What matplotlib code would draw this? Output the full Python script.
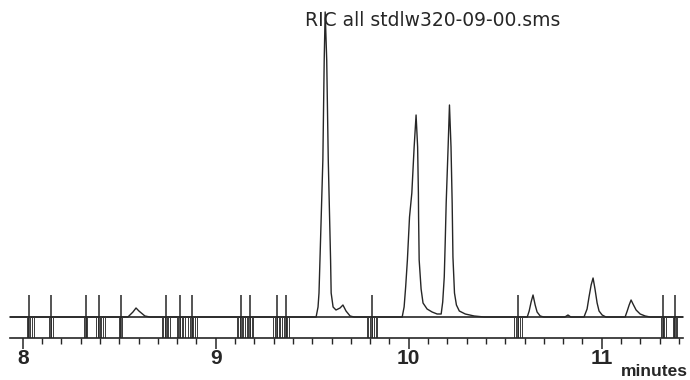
import matplotlib
matplotlib.use("Agg")
import matplotlib.pyplot as plt
import numpy as np

plt.rcParams['font.family'] = ['Liberation Sans', 'DejaVu Sans']

title = "RIC all stdlw320-09-00.sms"
x_label = "minutes"
tick_values = [8, 9, 10, 11]
tick_labels = ["8", "9", "10", "11"]

# Chromatogram trace: retention time (min) and signal (arb. units)
trace_time = [7.934, 8.545, 8.571, 8.587, 8.602, 8.633, 8.659,
              9.520, 9.530, 9.535, 9.540, 9.555, 9.562, 9.567, 9.575, 9.583, 9.595,
              9.598, 9.608, 9.623, 9.644, 9.659, 9.675, 9.696, 9.717,
              9.966, 9.976, 9.984, 9.993, 10.004, 10.016, 10.028, 10.038, 10.046,
              10.050, 10.051, 10.054, 10.064, 10.074, 10.095, 10.121, 10.147, 10.168,
              10.176, 10.184, 10.189, 10.194, 10.204, 10.211, 10.219, 10.225,
              10.229, 10.237, 10.247, 10.262, 10.293, 10.339, 10.391,
              10.614, 10.624, 10.634, 10.644, 10.655, 10.665, 10.681, 10.700,
              10.809, 10.825, 10.840,
              10.908, 10.924, 10.934, 10.945, 10.955, 10.965, 10.976, 10.986, 11.002, 11.022,
              11.121, 11.132, 11.142, 11.152, 11.162, 11.178, 11.199, 11.225, 11.251,
              11.421]
trace_signal = [0, 0, 5, 9, 6, 1, 0,
                0, 10, 24, 57, 157, 257, 305, 257, 157, 57,
                24, 10, 7, 9, 12, 6, 1, 0,
                0, 10, 30, 57, 100, 124, 170, 202, 170,
                124, 100, 57, 28, 14, 8, 5, 3, 3,
                15, 40, 75, 114, 170, 212, 170, 114,
                60, 24, 12, 6, 3, 1, 0,
                0, 6, 15, 22, 12, 5, 1, 0,
                0, 2, 0,
                0, 8, 20, 32, 39, 28, 14, 6, 2, 0,
                0, 6, 12, 17, 13, 7, 3, 1, 0,
                0]

# Integration event markers (min) and hatched event bands (start, end in min)
event_times = [8.034, 8.147, 8.328, 8.397, 8.509, 8.741, 8.815, 8.879,
               9.131, 9.178, 9.316, 9.363, 9.811, 10.565, 11.316, 11.380]
band_start = [8.020, 8.136, 8.318, 8.380, 8.499, 8.719, 8.798, 8.858,
              9.109, 9.298, 9.782, 10.546, 11.306, 11.368]
band_end = [8.056, 8.157, 8.333, 8.426, 8.514, 8.763, 8.841, 8.902,
            9.195, 9.381, 9.837, 10.585, 11.333, 11.392]

ink = '#262626'

fig = plt.figure(figsize=(6.9, 3.8), dpi=100)
ax = fig.add_axes([10/690, 1 - 338/380, 673/690, 338/380])

strip_bottom = -21
ax.set_xlim(7.934, 11.421)
ax.set_ylim(strip_bottom, 317)

ax.plot(trace_time, trace_signal, color=ink, lw=1.0, clip_on=False)
ax.axhline(0, color=ink, lw=1.2)

# hatched bands between baseline and axis
for s, e in zip(band_start, band_end):
    n = max(2, int(round((e - s) / 0.009)) + 1)
    ax.vlines(np.linspace(s, e, n), strip_bottom, 0, color='#3a3a3a', lw=0.7)
# tall event markers
ax.vlines(event_times, strip_bottom, 22, color=ink, lw=1.1)

for side in ['top', 'right', 'left']:
    ax.spines[side].set_visible(False)
ax.spines['bottom'].set_color(ink)
ax.spines['bottom'].set_linewidth(1.2)
ax.set_yticks([])
ax.set_xticks(tick_values)
ax.set_xticklabels(tick_labels, fontsize=15, fontweight='bold', color=ink)
ax.set_xticks(np.arange(8.0, 11.45, 0.1), minor=True)
ax.tick_params(axis='x', which='major', length=8, width=1.1, color=ink, pad=0)
ax.tick_params(axis='x', which='minor', length=4, width=1.0, color=ink)

fig.text(305/690, 1 - 20/380, title, fontsize=13.5, color=ink, ha='left', va='center',
         family=['DejaVu Sans'])
fig.text(621/690, 1 - 371/380, x_label, fontsize=12.5, fontweight='bold', color=ink,
         ha='left', va='center')

fig.savefig('out.png', dpi=100, facecolor='white')
